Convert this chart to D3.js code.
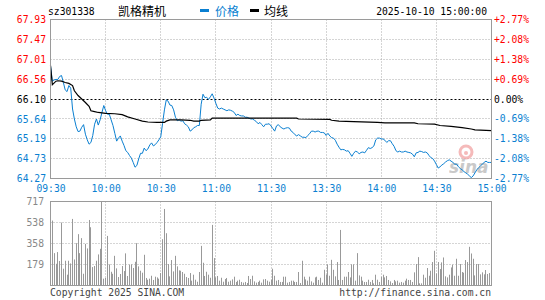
<!DOCTYPE html>
<html>
<head>
<meta charset="utf-8">
<script src="https://cdn.jsdelivr.net/npm/d3@7"></script>
<style>
  body { margin: 0; background: #fff; }
  svg text { font-family: "DejaVu Sans Mono", monospace; font-size: 9.7px; }
</style>
</head>
<body>
<div id="chart"></div>
<script>
// 凯格精机 sz301338 intraday, 2025-10-10
var code = "sz301338", stockName = "凯格精机", stamp = "2025-10-10 15:00:00";
var prevClose = 66.10;

var timeTicks = [0, 30, 60, 90, 120, 150, 180, 210, 240];
var timeLabels = ["09:30", "10:00", "10:30", "11:00", "11:30", "13:30", "14:00", "14:30", "15:00"];
var priceTicks = [67.93, 67.47, 67.01, 66.56, 66.10, 65.64, 65.19, 64.73, 64.27];
var pctTicks = [2.77, 2.08, 1.38, 0.69, 0, -0.69, -1.38, -2.08, -2.77];
var volTicks = [179, 358, 538, 717];

// one price per minute, 09:30 .. 11:30 / 13:00 .. 15:00
var prices = [
  66.87, 66.51, 66.54, 66.55, 66.55, 66.62, 66.64, 66.48, 66.31, 66.27,
  66.41, 66.35, 65.87, 65.64, 65.46, 65.35, 65.36, 65.45, 65.51, 65.29,
  65.16, 65.06, 65.10, 65.26, 65.52, 65.64, 65.50, 65.62, 65.79, 65.95,
  65.83, 65.75, 65.75, 65.62, 65.49, 65.31, 65.13, 65.20, 65.25, 65.13,
  65.03, 64.91, 64.87, 64.80, 64.74, 64.64, 64.53, 64.57, 64.72, 64.85,
  64.85, 64.97, 64.91, 64.95, 65.04, 65.09, 65.02, 65.05, 65.10, 65.16,
  65.23, 65.54, 65.85, 66.08, 66.05, 65.96, 65.95, 65.85, 65.68, 65.60,
  65.62, 65.59, 65.60, 65.53, 65.50, 65.46, 65.36, 65.39, 65.44, 65.46,
  65.49, 65.49, 65.98, 66.21, 66.13, 66.14, 66.09, 66.15, 66.22, 66.12,
  66.00, 65.89, 65.87, 65.89, 65.87, 65.85, 65.83, 65.85, 65.84, 65.82,
  65.79, 65.72, 65.75, 65.72, 65.71, 65.71, 65.68, 65.68, 65.66, 65.64,
  65.64, 65.61, 65.58, 65.53, 65.56, 65.51, 65.46, 65.52, 65.52, 65.53,
  65.48,
  65.42, 65.36, 65.48, 65.51, 65.46, 65.43, 65.41, 65.43, 65.44, 65.43,
  65.36, 65.33, 65.28, 65.25, 65.28, 65.25, 65.22, 65.22, 65.21, 65.26,
  65.30, 65.36, 65.36, 65.34, 65.36, 65.36, 65.33, 65.33, 65.32, 65.26,
  65.31, 65.25, 65.21, 65.20, 65.15, 65.06, 64.99, 64.93, 64.94, 64.93,
  64.90, 64.91, 64.85, 64.78, 64.85, 64.90, 64.88, 64.84, 64.87, 64.88,
  64.86, 64.92, 64.98, 64.96, 64.98, 65.02, 65.16, 65.20, 65.20, 65.18,
  65.18, 65.15, 65.10, 65.14, 65.14, 65.07, 65.01, 64.91, 64.88, 64.90,
  64.88, 64.88, 64.90, 64.88, 64.87, 64.86, 64.83, 64.77, 64.86, 64.87,
  64.90, 64.89, 64.87, 64.88, 64.86, 64.80, 64.75, 64.73, 64.67, 64.59,
  64.51, 64.54, 64.58, 64.61, 64.65, 64.68, 64.70, 64.67, 64.64, 64.60,
  64.60, 64.54, 64.50, 64.47, 64.43, 64.40, 64.37, 64.33, 64.29, 64.33,
  64.40, 64.47, 64.52, 64.56, 64.60, 64.64, 64.67, 64.64, 64.64, 64.64
];

// average line
var avgMinutes = [0, 1, 3, 4, 6, 8, 10, 12, 13, 15, 17, 19, 21, 22, 24, 26, 30, 35, 39, 42,
  46, 50, 53, 58, 62, 63, 65, 71, 76, 78, 81, 82, 87, 88, 96, 105, 114, 122, 134, 135,
  152, 153, 157, 165, 178, 182, 198, 200, 209, 212, 218, 224, 229, 231, 240];
var avgValues = [66.87, 66.43, 66.51, 66.52, 66.51, 66.48, 66.46, 66.41, 66.29, 66.18,
  66.10, 66.02, 65.93, 65.83, 65.81, 65.79, 65.77, 65.76, 65.74, 65.69,
  65.64, 65.59, 65.57, 65.56, 65.56, 65.59, 65.62, 65.62, 65.61, 65.59,
  65.59, 65.61, 65.62, 65.66, 65.66, 65.66, 65.66, 65.66, 65.66, 65.64,
  65.63, 65.61, 65.59, 65.58, 65.56, 65.55, 65.55, 65.53, 65.52, 65.49,
  65.47, 65.44, 65.41, 65.39, 65.37];

// volume per minute (lots)
var volumes = [
  142, 550, 272, 181, 281, 205, 533, 139, 207, 88,
  207, 184, 564, 218, 357, 434, 272, 400, 96, 351,
  312, 555, 493, 153, 162, 207, 261, 309, 717, 54,
  60, 419, 176, 113, 96, 249, 142, 68, 94, 162,
  119, 270, 77, 173, 176, 145, 198, 357, 159, 122,
  105, 258, 60, 45, 54, 79, 43, 71, 65, 54,
  102, 391, 649, 442, 179, 74, 213, 116, 249, 159,
  125, 122, 111, 96, 68, 60, 102, 37, 88, 45,
  28, 111, 334, 190, 77, 113, 88, 62, 513, 230,
  65, 77, 37, 62, 28, 51, 60, 28, 37, 48,
  71, 26, 37, 45, 26, 20, 26, 17, 77, 51,
  79, 31, 20, 26, 37, 20, 48, 51, 37, 28,
  45, 139, 79, 37, 43, 26, 26, 71, 71, 20,
  26, 37, 37, 26, 26, 111, 17, 207, 71, 48,
  37, 71, 31, 20, 65, 71, 43, 62, 20, 130,
  88, 176, 79, 215, 130, 74, 196, 43, 470, 43,
  71, 71, 111, 65, 176, 176, 37, 272, 82, 71,
  37, 26, 26, 45, 26, 43, 14, 88, 45, 26,
  71, 88, 65, 77, 43, 31, 17, 43, 31, 37,
  20, 26, 20, 37, 54, 43, 43, 26, 108, 179,
  238, 14, 14, 88, 62, 145, 79, 122, 196, 292,
  99, 196, 136, 193, 235, 74, 65, 88, 150, 173,
  79, 224, 79, 179, 111, 105, 213, 196, 326, 269,
  224, 82, 179, 179, 91, 108, 91, 128, 94, 102, 88
];

var red = "#ff0000", blue = "#0a7fd1", gridC = "#aaaaaa", frameC = "#9a9a9a";

var svg = d3.select("#chart").append("svg").attr("width", 545).attr("height", 300);

var left = 50.5, right = 491.5, top1 = 19.5, bot1 = 178.5, top2 = 201.5, bot2 = 285.5;

var x = d3.scaleLinear().domain([0, 240]).range([left, right]);
var y = d3.scaleLinear().domain([64.27, 67.93]).range([bot1, top1]);
var yPct = d3.scaleLinear().domain([-2.77, 2.77]).range([bot1, top1]);
var yVol = d3.scaleLinear().domain([0, 717]).range([bot2, top2]);

// header
svg.append("text").attr("x", 48).attr("y", 15).attr("fill", "#000").text(code);
svg.append("text").attr("x", 118).attr("y", 15.5).attr("fill", "#000")
  .style("font-family", "'Noto Sans CJK SC'").style("font-size", "12px").text(stockName);
svg.append("rect").attr("x", 200).attr("y", 9).attr("width", 9).attr("height", 3).attr("fill", blue);
svg.append("text").attr("x", 215).attr("y", 15.5).attr("fill", blue)
  .style("font-family", "'Noto Sans CJK SC'").style("font-size", "12px").text("价格");
svg.append("rect").attr("x", 250).attr("y", 9).attr("width", 9).attr("height", 3).attr("fill", "#000");
svg.append("text").attr("x", 264).attr("y", 15.5).attr("fill", "#000")
  .style("font-family", "'Noto Sans CJK SC'").style("font-size", "12px").text("均线");
svg.append("text").attr("x", 487).attr("y", 15).attr("text-anchor", "end").attr("fill", "#000").text(stamp);

// grid, price panel
var g1 = svg.append("g");
g1.selectAll(".hg").data(priceTicks.slice(1, -1)).enter().append("line")
  .attr("x1", left).attr("x2", right)
  .attr("y1", function(d) { return Math.round(y(d) - 0.5) + 0.5; })
  .attr("y2", function(d) { return Math.round(y(d) - 0.5) + 0.5; })
  .attr("stroke", function(d) { return d == prevClose ? "#000" : gridC; })
  .attr("stroke-dasharray", function(d) { return d == prevClose ? "2,2" : "1,2"; });
g1.selectAll(".vg").data(timeTicks.slice(1, -1)).enter().append("line")
  .attr("y1", top1).attr("y2", bot1)
  .attr("x1", function(d) { return Math.round(x(d) - 0.5) + 0.5; })
  .attr("x2", function(d) { return Math.round(x(d) - 0.5) + 0.5; })
  .attr("stroke", gridC).attr("stroke-dasharray", "1,2");

// grid, volume panel
var g2 = svg.append("g");
g2.selectAll("line.h").data(volTicks.slice(0, -1)).enter().append("line")
  .attr("x1", left).attr("x2", right)
  .attr("y1", function(d) { return Math.round(yVol(d) - 0.5) + 0.5; })
  .attr("y2", function(d) { return Math.round(yVol(d) - 0.5) + 0.5; })
  .attr("stroke", gridC).attr("stroke-dasharray", "1,2");
g2.selectAll("line.v").data(timeTicks.slice(1, -1)).enter().append("line")
  .attr("y1", top2).attr("y2", bot2)
  .attr("x1", function(d) { return Math.round(x(d) - 0.5) + 0.5; })
  .attr("x2", function(d) { return Math.round(x(d) - 0.5) + 0.5; })
  .attr("stroke", gridC).attr("stroke-dasharray", "1,2");

// sina watermark
var wm = svg.append("g").attr("opacity", 0.75);
wm.append("circle").attr("cx", 466).attr("cy", 152).attr("r", 6).attr("fill", "none")
  .attr("stroke", "#f2a3a3").attr("stroke-width", 3);
wm.append("circle").attr("cx", 466).attr("cy", 153).attr("r", 2).attr("fill", "#f2a3a3");
wm.append("text").attr("x", 449).attr("y", 173)
  .style("font-family", "'DejaVu Sans'").style("font-size", "17px")
  .style("font-weight", "bold").style("font-style", "italic")
  .attr("fill", "#b8b8b8").text("sina");

// volume bars
svg.selectAll(".bar").data(volumes).enter().append("rect")
  .attr("class", "bar")
  .attr("x", function(d, i) { return Math.floor(x(i)); })
  .attr("y", function(d) { return yVol(d) - 0.5; })
  .attr("width", 1)
  .attr("height", function(d) { return bot2 - yVol(d); })
  .attr("fill", "#999");

// avg line and price line
var avgLine = d3.line()
  .x(function(d, i) { return x(avgMinutes[i]); })
  .y(function(d) { return y(d); });
var priceLine = d3.line()
  .x(function(d, i) { return x(i); })
  .y(function(d) { return y(d); });

svg.append("path").datum(prices).attr("d", priceLine)
  .attr("fill", "none").attr("stroke", blue).attr("stroke-width", 1);
svg.append("path").datum(avgValues).attr("d", avgLine)
  .attr("fill", "none").attr("stroke", "#000").attr("stroke-width", 1.2);

// frames
svg.append("rect").attr("x", left).attr("y", top1).attr("width", right - left).attr("height", bot1 - top1)
  .attr("fill", "none").attr("stroke", frameC);
svg.append("rect").attr("x", left).attr("y", top2).attr("width", right - left).attr("height", bot2 - top2)
  .attr("fill", "none").attr("stroke", frameC);

// axes
function colorFor(v) { return v > 0 ? red : (v < 0 ? blue : "#000"); }

var ax = svg.append("g").attr("transform", "translate(" + (left - 0.5) + ",0)")
  .call(d3.axisLeft(y).tickValues(priceTicks).tickFormat(d3.format(".2f")).tickSize(0).tickPadding(4));
ax.selectAll("text").attr("fill", function(d) { return colorFor(d - prevClose); });

var axr = svg.append("g").attr("transform", "translate(" + (right + 0.5) + ",0)")
  .call(d3.axisRight(yPct).tickValues(pctTicks).tickSize(0).tickPadding(2)
    .tickFormat(function(d) { return (d > 0 ? "+" : "") + d.toFixed(2) + "%"; }));
axr.selectAll("text").attr("fill", function(d) { return colorFor(d); });

var axb = svg.append("g").attr("transform", "translate(0," + bot1 + ")")
  .call(d3.axisBottom(x).tickValues(timeTicks).tickSize(0).tickPadding(7)
    .tickFormat(function(d, i) { return timeLabels[i]; }));
axb.selectAll("text").attr("fill", blue);

var axv = svg.append("g").attr("transform", "translate(" + (left - 0.5) + ",0)")
  .call(d3.axisLeft(yVol).tickValues(volTicks).tickSize(0).tickPadding(6));
axv.selectAll("text").attr("fill", "#888");

svg.selectAll(".domain").remove();
svg.selectAll(".tick text").style("font-family", "'DejaVu Sans Mono'").style("font-size", "9.7px");

// footer
svg.append("text").attr("x", 50).attr("y", 296).attr("fill", "#444").text("Copyright 2025 SINA.COM");
svg.append("text").attr("x", 491).attr("y", 296).attr("text-anchor", "end").attr("fill", "#444")
  .text("http://finance.sina.com.cn");
</script>
</body>
</html>
